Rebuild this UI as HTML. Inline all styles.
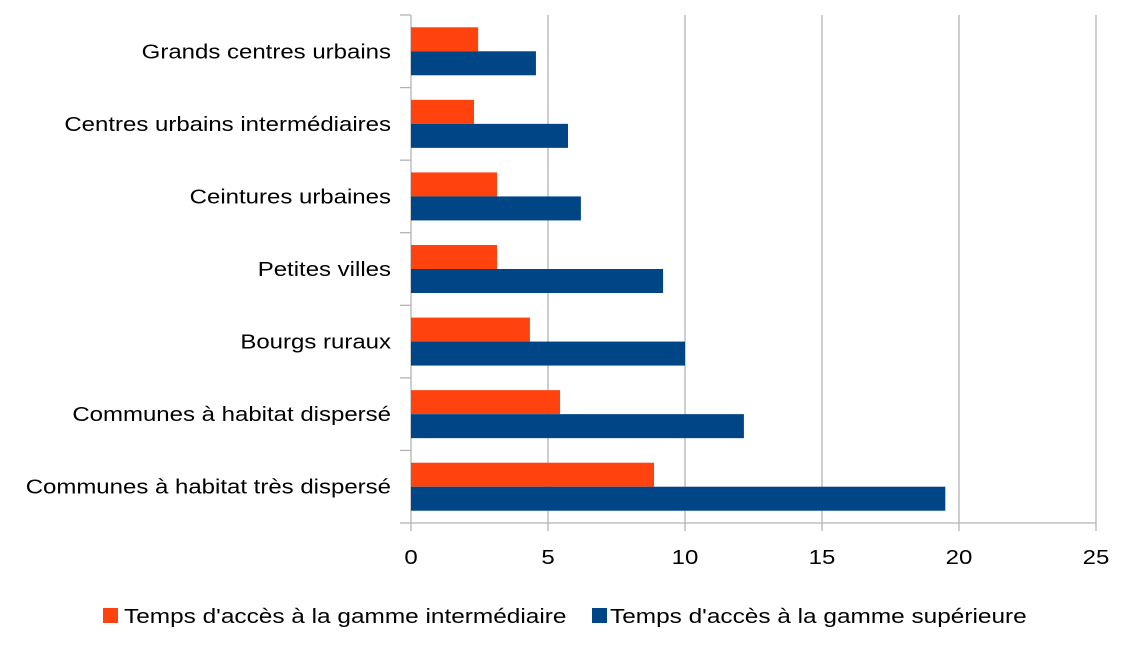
<!DOCTYPE html>
<html><head><meta charset="utf-8"><style>
body{margin:0;background:#fff;}
svg text{font-family:"Liberation Sans",sans-serif;fill:#000;}
</style></head><body>
<svg width="1125" height="653">
<g id="grid"></g><g id="bars"></g><g id="labels"></g>
<g>
<rect x="103" y="608" width="15" height="15" fill="#ff420e"/>
<text transform="translate(124,623) scale(1.22,1)" font-size="20">Temps d'accès à la gamme intermédiaire</text>
<rect x="592" y="608" width="15" height="15" fill="#004586"/>
<text transform="translate(610,623) scale(1.22,1)" font-size="20">Temps d'accès à la gamme supérieure</text>
</g>
</svg>
<script>
const categories=["Grands centres urbains","Centres urbains intermédiaires","Ceintures urbaines","Petites villes","Bourgs ruraux","Communes à habitat dispersé","Communes à habitat très dispersé"];
const intermediate=[2.45,2.3,3.14,3.14,4.34,5.44,8.87];
const superior=[4.56,5.73,6.2,9.2,10.0,12.15,19.5];
const ticks=[0,5,10,15,20,25];
const NS="http://www.w3.org/2000/svg";
const x0=411,x1=1096,yTop=15,yBot=523,maxV=25,sx=1.2;
const xs=v=>x0+v/maxV*(x1-x0);
const band=(yBot-yTop)/categories.length;
function mk(t,a,p){const e=document.createElementNS(NS,t);for(const k in a)e.setAttribute(k,a[k]);p.appendChild(e);return e;}
const g=document.getElementById('grid'),b=document.getElementById('bars'),l=document.getElementById('labels');
ticks.forEach(t=>{
 const ln=mk('line',{x1:xs(t),x2:xs(t),y1:yTop,y2:yBot+8,stroke:'#b3b3b3','stroke-width':1.3},g);
 
 
 const tx=mk('text',{transform:'translate('+xs(t)+',564) scale('+sx+',1)','font-size':20,'text-anchor':'middle'},l);tx.textContent=t;
 
 
});
for(let i=0;i<=categories.length;i++){
 const ln=mk('line',{x1:400,x2:x0,y1:yTop+i*band,y2:yTop+i*band,stroke:'#b3b3b3','stroke-width':1.3},g);
 
 
}
const ax=mk('line',{x1:x0,x2:x1,y1:yBot,y2:yBot,stroke:'#b3b3b3','stroke-width':1.3},g);


const bh=24;
categories.forEach((c,i)=>{
 const cy=yTop+i*band+band/2;
 const r1=mk('rect',{x:x0,y:cy-bh,width:xs(intermediate[i])-x0,height:bh,fill:'#ff420e'},b);
 
 
 const r2=mk('rect',{x:x0,y:cy,width:xs(superior[i])-x0,height:bh,fill:'#004586'},b);
 
 
 const t=mk('text',{transform:'translate(391,'+(cy+7)+') scale('+sx+',1)','font-size':20,'text-anchor':'end'},l);t.textContent=c;
 
 
});
</script>
</body></html>
